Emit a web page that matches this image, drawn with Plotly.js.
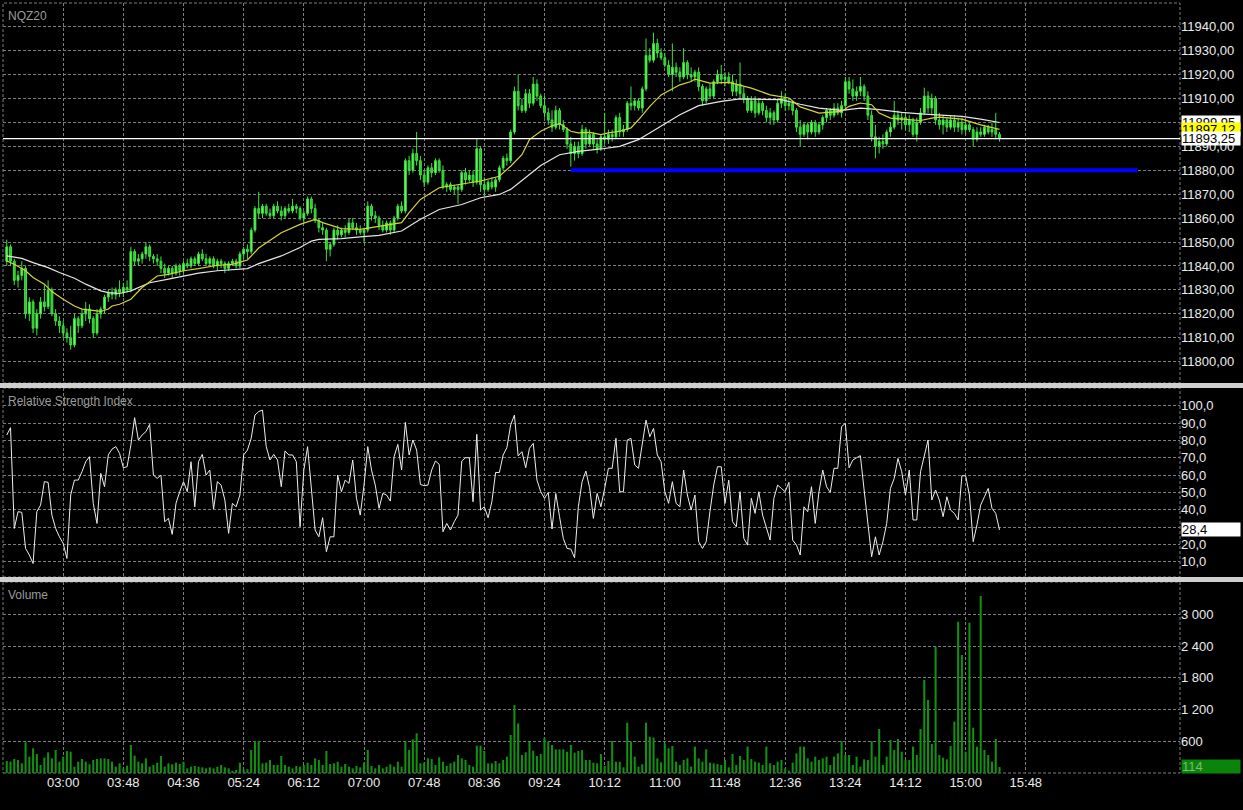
<!DOCTYPE html>
<html><head><meta charset="utf-8">
<script src="https://cdn.plot.ly/plotly-3.0.1.min.js"></script>
<style>html,body{margin:0;padding:0;background:#000;}#chart{width:1243px;height:810px;}</style>
</head><body><div id="chart"></div>
<script>
// ---- data (3-minute bars starting 02:15) ----
const barStart = '02:15';
const barMinutes = 3;
const openP = [11842,11848,11842,11834,11836,11839,11820,11825,11814,11820,11825,11823,11830,11820,11817,
11815,11812,11810,11807,11818,11815,11820,11822,11818,11812,11820,11822,11827,11829,11828,11830,
11829,11831,11830,11846,11842,11843,11845,11848,11844,11843,11842,11839,11837,11839,11837,11840,
11838,11841,11840,11843,11841,11845,11843,11841,11843,11840,11842,11841,11839,11841,11842,11840,
11845,11847,11846,11855,11864,11862,11865,11862,11861,11865,11863,11861,11864,11863,11865,11864,
11860,11862,11868,11864,11859,11856,11855,11847,11849,11855,11853,11855,11854,11858,11856,11855,
11854,11855,11865,11861,11860,11857,11855,11858,11855,11860,11865,11863,11884,11880,11887,11884,
11878,11875,11881,11879,11884,11880,11873,11874,11872,11873,11872,11879,11876,11878,11875,11889,
11874,11872,11875,11873,11876,11881,11885,11884,11896,11913,11907,11905,11912,11908,11916,11911,
11907,11904,11901,11898,11905,11899,11897,11891,11887,11890,11887,11897,11891,11895,11891,11889,
11894,11893,11895,11894,11902,11896,11897,11908,11907,11909,11906,11914,11928,11926,11933,11929,
11927,11924,11920,11923,11921,11919,11925,11920,11919,11921,11915,11909,11914,11911,11917,11920,
11918,11919,11917,11913,11916,11912,11910,11905,11909,11904,11908,11905,11902,11904,11901,11908,
11910,11907,11908,11905,11898,11895,11899,11896,11900,11896,11899,11902,11905,11903,11906,11904,
11907,11917,11914,11911,11913,11915,11911,11903,11894,11890,11892,11891,11896,11898,11903,11901,
11902,11899,11901,11895,11900,11904,11911,11906,11910,11901,11899,11901,11898,11901,11898,11900,
11897,11899,11897,11893,11896,11895,11898,11896,11897,11895];
const highP = [11851,11849,11843,11838,11842,11840,11827,11826,11822,11827,11832,11834,11831,11822,11819,
11817,11814,11815,11820,11819,11822,11825,11824,11819,11822,11823,11828,11830,11831,11831,11834,
11833,11834,11848,11847,11845,11846,11850,11849,11845,11845,11844,11841,11840,11840,11841,11841,
11842,11843,11844,11844,11846,11847,11845,11844,11844,11843,11843,11842,11842,11843,11843,11846,
11848,11849,11856,11865,11871,11866,11866,11864,11866,11867,11865,11865,11866,11868,11866,11865,
11863,11869,11869,11866,11860,11858,11856,11850,11856,11857,11856,11857,11860,11860,11858,11857,
11856,11867,11866,11863,11861,11859,11859,11859,11861,11866,11867,11885,11886,11889,11896,11886,
11880,11882,11883,11885,11885,11882,11875,11875,11874,11874,11880,11881,11880,11880,11893,11890,
11877,11876,11877,11877,11882,11886,11887,11897,11915,11920,11910,11914,11914,11919,11918,11912,
11911,11906,11905,11907,11906,11901,11898,11894,11892,11892,11899,11898,11897,11896,11893,11895,
11904,11897,11897,11903,11904,11899,11909,11915,11910,11910,11915,11935,11931,11937.5,11935,11931,
11929,11926,11933,11925,11923,11931,11926,11923,11922,11923,11916,11915,11916,11918,11922,11924,
11921,11921,11920,11918,11925,11915,11911,11911,11911,11910,11909,11907,11906,11905,11910,11913,
11912,11910,11909,11906,11901,11900,11900,11901,11901,11900,11903,11906,11906,11908,11908,11909,
11919,11919,11918,11915,11919,11916,11913,11905,11899,11894,11895,11897,11900,11909,11905,11904,
11904,11903,11902,11902,11906,11914.5,11913,11912,11911,11904,11903,11902,11903,11903,11902,11902,
11901,11900,11898,11898,11898,11899,11899,11900,11904,11896];
const lowP = [11840,11840,11832,11831,11834,11818,11817,11812,11811,11818,11821,11822,11819,11815,11812,
11810,11808,11805,11806,11812,11814,11817,11816,11810,11811,11818,11820,11825,11826,11826,11827,
11827,11829,11829,11840,11840,11841,11843,11842,11841,11840,11837,11835,11836,11835,11836,11836,
11837,11839,11839,11840,11840,11842,11840,11840,11839,11838,11839,11837,11838,11840,11839,11839,
11843,11843,11845,11854,11860,11860,11861,11860,11860,11862,11859,11860,11862,11862,11862,11859,
11858,11861,11862,11858,11854,11853,11842,11844,11848,11851,11852,11852,11853,11855,11853,11853,
11850,11854,11859,11858,11855,11854,11854,11853,11854,11859,11862,11862,11878,11879,11882,11876,
11873,11874,11877,11878,11879,11872,11871,11871,11870,11866,11871,11874,11875,11873,11874,11871,
11869,11871,11872,11871,11875,11880,11882,11883,11895,11905,11904,11904,11906,11907,11909,11906,
11902,11899,11896,11897,11897,11896,11889,11881.5,11884,11885,11886,11889,11890,11889,11887,11888,
11891,11891,11892,11893,11894,11894,11896,11905,11905,11905,11904,11913,11925,11925,11927,11926,
11923,11919,11913,11919,11917,11918,11918,11917,11917,11913,11907,11908,11910,11910,11916,11916,
11915,11916,11911,11911,11910,11908,11904,11904,11902,11903,11903,11900,11899,11899,11900,11906,
11905,11905,11903,11896,11890,11894,11893,11895,11894,11895,11897,11900,11901,11902,11903,11902,
11906,11912,11909,11909,11911,11909,11901,11892,11885,11887,11889,11890,11894,11897,11899,11897,
11897,11896,11894,11892,11899,11903,11904,11903,11899,11897,11895,11896,11897,11896,11896,11895,
11895,11896,11890,11892,11894,11894,11895,11894,11893,11892];
const closeP = [11848,11842,11834,11836,11839,11820,11825,11814,11820,11825,11823,11830,11820,11817,11815,
11812,11810,11807,11818,11815,11820,11822,11818,11812,11820,11822,11827,11829,11828,11830,11829,
11831,11830,11846,11842,11843,11845,11848,11844,11843,11842,11839,11837,11839,11837,11840,11838,
11841,11840,11843,11841,11845,11843,11841,11843,11840,11842,11841,11839,11841,11842,11840,11845,
11847,11846,11855,11864,11862,11865,11862,11861,11865,11863,11861,11864,11863,11865,11864,11860,
11862,11868,11864,11859,11856,11855,11847,11849,11855,11853,11855,11854,11858,11856,11855,11854,
11855,11865,11861,11860,11857,11855,11858,11855,11860,11865,11863,11884,11880,11887,11884,11878,
11875,11881,11879,11884,11880,11873,11874,11872,11873,11872,11879,11876,11878,11875,11889,11874,
11872,11875,11873,11876,11881,11885,11884,11896,11913,11907,11905,11912,11908,11916,11911,11907,
11904,11901,11898,11905,11899,11897,11891,11887,11890,11887,11897,11891,11895,11891,11889,11894,
11893,11895,11894,11902,11896,11897,11908,11907,11909,11906,11914,11928,11926,11933,11929,11927,
11924,11920,11923,11921,11919,11925,11920,11919,11921,11915,11909,11914,11911,11917,11920,11918,
11919,11917,11913,11916,11912,11910,11905,11909,11904,11908,11905,11902,11904,11901,11908,11910,
11907,11908,11905,11898,11895,11899,11896,11900,11896,11899,11902,11905,11903,11906,11904,11907,
11917,11914,11911,11913,11915,11911,11903,11894,11890,11892,11891,11896,11898,11903,11901,11902,
11899,11901,11895,11900,11904,11911,11906,11910,11901,11899,11901,11898,11901,11898,11900,11897,
11899,11897,11893,11896,11895,11898,11896,11897,11895,11893.25];
const volume = [227,214,265,246,183,580,309,466,359,151,290,390,277,434,214,309,416,403,120,214,265,214,164,246,265,277,277,265,214,120,183,88,139,
530,328,214,183,277,120,151,195,321,120,
183,164,195,170,214,88,120,132,120,107,
88,107,88,120,151,107,88,44,57,195,
69,69,435,605,605,183,195,246,151,151,
321,151,120,88,132,120,151,195,151,277,
246,151,416,170,183,214,120,170,120,88,
132,107,195,435,132,88,151,88,120,164,
120,214,120,592,435,636,750,183,195,277,
265,151,296,214,132,183,214,340,277,246,
151,120,517,517,416,183,183,227,183,246,
309,718,1285,939,340,391,592,422,321,359,
668,592,529,447,447,447,403,529,384,416,
435,246,246,195,183,359,132,227,605,214,
214,107,951,592,309,120,164,951,687,668,
277,202,561,466,510,214,151,246,277,120,
498,277,214,447,195,183,170,151,246,107,
359,151,321,246,498,265,214,195,151,498,
183,151,214,246,88,44,195,372,498,498,
277,214,309,246,277,309,151,309,372,599,
340,340,151,309,120,258,246,599,309,832,
151,309,624,435,643,403,246,246,498,340,
832,1758,1380,548,
2387,340,290,259,510,970,2860,2230,403,2841,857,497,3345,435,340,214,643,114];
const rsi = [83.1,87.3,29.2,38.9,38.5,17.7,13.9,9.0,38.9,42.7,
56.2,55.8,36.9,29.2,24.4,20.6,11.9,48.5,57.1,57.1,
61.9,67.7,70.6,43.7,32.1,61.0,53.3,71.6,75.0,76.4,
72.5,64.2,64.8,77.3,93.1,80.2,83.1,85.0,89.2,60.0,
58.1,60.0,33.1,35.0,25.8,43.7,50.4,56.2,50.4,67.7,
41.7,67.7,71.9,60.0,62.9,40.4,56.2,54.2,45.6,26.4,
43.7,41.7,48.5,71.6,74.4,81.2,94.6,96.6,97.5,76.4,
68.7,71.9,68.7,53.3,73.9,71.6,71.6,67.7,30.2,62.9,
76.4,50.4,28.3,24.4,35.4,15.8,24.4,24.4,60.0,50.4,
57.1,55.2,68.7,46.6,36.9,54.2,76.4,62.9,54.2,40.8,
49.4,48.5,45.0,70.6,77.7,62.9,90.4,71.6,80.2,74.4,
54.6,53.9,54.2,62.9,68.1,66.2,27.3,32.1,28.3,33.1,
36.9,68.1,70.0,70.0,44.6,83.5,39.8,41.7,35.4,44.6,
61.5,61.5,71.6,75.8,88.9,94.6,71.0,73.5,64.2,75.4,
78.3,57.1,50.4,46.6,50.0,28.9,49.4,36.0,23.5,17.7,
17.3,12.3,41.7,56.2,62.3,52.7,35.0,49.4,41.7,52.3,
63.9,63.9,81.2,50.4,
50.4,80.2,81.2,65.8,63.9,77.9,91.7,82.1,86.9,71.6,
67.7,50.4,43.7,56.2,43.7,41.7,62.9,48.5,39.8,48.5,
21.6,17.7,21.6,38.9,54.2,64.8,64.8,43.7,57.1,33.1,
30.2,50.4,23.5,19.6,46.6,37.9,50.4,36.9,29.6,22.5,
46.6,54.2,52.3,50.4,55.8,22.5,19.6,13.9,41.7,38.9,
53.3,32.1,50.4,62.9,53.3,50.0,63.9,63.9,87.9,89.8,
64.2,68.7,70.0,71.2,51.4,33.1,12.9,24.4,13.9,21.6,
32.1,52.3,58.1,69.6,61.9,48.5,62.9,34.1,34.1,61.9,
70.6,80.2,45.6,51.4,45.6,36.0,47.5,39.8,37.9,34.1,
59.6,59.6,48.5,21.6,31.2,42.7,47.5,52.3,40.8,37.9,
28.4];
// moving averages read at selected bars (bar index, value)
const maSlowIdx = [0,4,7,11,14,18,21,25,27,30,33,38,43,47,51,56,60,64,67,73,78,81,83,89,94,99,105,110,115,121,126,131,134,137,142,147,152,158,163,168,174,179,184,190,195,200,206,211,216,222,227,232,238,243,248,254,259,264];
const maSlowVal = [11844.2,11843.2,11841.4,11839.3,11837.3,11834.9,11832.4,11829.6,11828.9,11828.5,11829.6,11833,11834.5,11835.8,11837,11838,11838.3,11838.9,11841,11844.2,11847.7,11850.4,11851.1,11851.4,11852.2,11852.8,11854.6,11859.5,11863.6,11865.7,11868.5,11869.9,11872,11875.8,11882,11886.5,11887.9,11888.9,11890,11892.8,11898.3,11903.2,11907,11908.8,11909.8,11909.8,11909.5,11907.6,11906,11905,11906,11905.3,11904.2,11903.6,11903.2,11902.5,11901.4,11899.95];
const maFastIdx = [0,2,5,7,10,12,15,18,20,23,25,27,28,30,33,36,40,43,47,51,56,60,64,67,73,78,82,84,89,94,97,99,105,107,110,115,121,126,131,134,137,139,142,145,147,150,152,155,158,160,163,166,168,171,174,179,182,183,187,192,198,203,208,211,216,222,224,227,230,232,235,238,243,246,248,254,259,264];
const maFastVal = [11842.1,11840.7,11838,11835.2,11832.4,11829.3,11826.1,11823.3,11822,11821.3,11821,11822,11823.3,11824,11826.1,11831,11835.8,11836.5,11838,11838.9,11840.3,11840.7,11842.5,11847.5,11853.9,11857.4,11859.5,11858.1,11855.6,11855.3,11856,11856.7,11858.1,11862.3,11867.8,11872.7,11874.1,11875.5,11877.5,11881.7,11886.5,11892.8,11896.3,11898.6,11899.5,11896.3,11895.6,11895.8,11894.9,11895.6,11896.3,11897.7,11901.1,11906.7,11911.5,11915.7,11917.1,11918.1,11916.4,11916.7,11914.3,11911.5,11910.2,11906.5,11903.9,11904.6,11906.7,11908.1,11907.4,11903.9,11901.8,11901.4,11900.8,11901.8,11902.2,11901.4,11899,11897.12];
const xTickLabels = ['03:00','03:48','04:36','05:24','06:12','07:00','07:48','08:36','09:24','10:12','11:00','11:48','12:36','13:24','14:12','15:00','15:48'];
const priceTicks = [11800,11810,11820,11830,11840,11850,11860,11870,11880,11890,11900,11910,11920,11930,11940];
const rsiTicks = [10,20,30,40,50,60,70,80,90,100];
const volTicks = [600,1200,1800,2400,3000];
const levelPrice = 11880, levelFrom = '09:45', levelTo = '17:17';
const lastPrice = 11893.25, lastSlow = '11899,95', lastFast = '11897,12', lastPriceText = '11893,25';
const lastRsi = 28.4, lastRsiText = '28,4', lastVol = 114, lastVolText = '114';

// ---- build ----
const DAY = '2020-10-22';
function hm(s){ return DAY + ' ' + s + ':00'; }
const base = Date.parse(DAY + 'T' + barStart + ':00Z');
function t(i){ return new Date(base + i*barMinutes*60000).toISOString().slice(0,19).replace('T',' '); }
const times = openP.map((_, i) => t(i));

const GRID = '#7c7c7c', DASH = '3px,2px';
const FONT = 'Liberation Sans, Arial, sans-serif';
const green = '#3fe03f';

const traces = [
  {type:'candlestick', x:times, open:openP, high:highP, low:lowP, close:closeP, xaxis:'x', yaxis:'y',
   increasing:{line:{color:green,width:1}, fillcolor:'#66ff66'},
   decreasing:{line:{color:green,width:1}, fillcolor:'#2fc52f'},
   whiskerwidth:0, hoverinfo:'skip'},
  {type:'scatter', mode:'lines', x:maSlowIdx.map(t), y:maSlowVal, xaxis:'x', yaxis:'y', line:{color:'#e6e6e6', width:1.2}, hoverinfo:'skip'},
  {type:'scatter', mode:'lines', x:maFastIdx.map(t), y:maFastVal, xaxis:'x', yaxis:'y', line:{color:'#d8d23a', width:1.2}, hoverinfo:'skip'},
  {type:'scatter', mode:'lines', x:times, y:rsi, xaxis:'x', yaxis:'y2', line:{color:'#eeeeee', width:1}, hoverinfo:'skip'},
  {type:'bar', x:times, y:volume, xaxis:'x', yaxis:'y3', marker:{color:'#138f13', line:{width:0}}, hoverinfo:'skip'}
];

const yBase = {side:'right', showgrid:true, gridcolor:GRID, griddash:DASH, gridwidth:1, zeroline:false, showline:false,
  ticks:'', tickfont:{color:'#ececec', size:13, family:FONT}, fixedrange:true, anchor:'x'};

const mainDom = [0.5065, 1], rsiDom = [0.2545, 0.5], volDom = [0, 0.248];

function border(dom){
  return {type:'rect', xref:'paper', yref:'paper', x0:0, x1:1, y0:dom[0], y1:dom[1],
    line:{color:GRID, width:1, dash:DASH}, layer:'below'};
}
const shapes = [
  border(mainDom), border(rsiDom), border(volDom),
  {type:'line', xref:'paper', yref:'y', x0:0, x1:1, y0:lastPrice, y1:lastPrice, line:{color:'#ffffff', width:1.2}, layer:'above'},
  {type:'line', xref:'x', yref:'y', x0:hm(levelFrom), x1:hm(levelTo), y0:levelPrice, y1:levelPrice, line:{color:'#0000ff', width:4}, layer:'above'},
  {type:'rect', xref:'paper', yref:'paper', x0:-0.01, x1:1.06, y0:0.5, y1:0.5065, fillcolor:'#cfcfcf', line:{width:0}, layer:'above'},
  {type:'rect', xref:'paper', yref:'paper', x0:-0.01, x1:1.06, y0:0.248, y1:0.2545, fillcolor:'#cfcfcf', line:{width:0}, layer:'above'}
];

function box(text, y, yref, bg, fg){
  return {xref:'paper', x:1, xanchor:'left', yref:yref, y:y, yanchor:'middle', text:text, showarrow:false,
    bgcolor:bg, font:{color:fg, size:13, family:FONT}, width:58, height:13, align:'left', borderpad:0, xshift:1};
}
function title(text, domTop, shift){
  return {xref:'paper', yref:'paper', x:0, y:domTop, xanchor:'left', yanchor:'top', xshift:3, yshift:shift,
    text:text, showarrow:false, font:{color:'#9a9a9a', size:12, family:FONT}};
}
const annotations = [
  title('NQZ20', mainDom[1], -4), title('Relative Strength Index', rsiDom[1], -4), title('Volume', volDom[1], -4),
  box(lastSlow, 11899.95, 'y', '#ffffff', '#000000'),
  box(lastFast, 11897.12, 'y', '#ffff00', '#000000'),
  box(lastPriceText, lastPrice, 'y', '#ffffff', '#000000'),
  box(lastRsiText, lastRsi, 'y2', '#ffffff', '#000000'),
  box(lastVolText, lastVol, 'y3', '#0a840a', '#7fb87f')
];

const layout = {
  width:1243, height:810, paper_bgcolor:'#000000', plot_bgcolor:'rgba(0,0,0,0)',
  margin:{l:3, r:63, t:3, b:37}, separators:', ', showlegend:false, bargap:0.45, dragmode:false,
  xaxis:{type:'date', range:[hm('02:12'), hm('17:51')], anchor:'y3', tickvals:xTickLabels.map(hm), ticktext:xTickLabels,
    showgrid:true, gridcolor:GRID, griddash:DASH, gridwidth:1, zeroline:false, showline:false, ticks:'',
    tickfont:{color:'#ececec', size:13, family:FONT}, rangeslider:{visible:false}, fixedrange:true},
  yaxis:Object.assign({}, yBase, {domain:mainDom, range:[11791.1, 11949.9], tickvals:priceTicks, tickformat:'.2f'}),
  yaxis2:Object.assign({}, yBase, {domain:rsiDom, range:[1.2, 110.2], tickvals:rsiTicks, tickformat:'.1f'}),
  yaxis3:Object.assign({}, yBase, {domain:volDom, range:[0, 3610], tickvals:volTicks, tickformat:',d'}),
  shapes:shapes, annotations:annotations
};
Plotly.newPlot('chart', traces, layout, {staticPlot:true, displayModeBar:false});
</script></body></html>
